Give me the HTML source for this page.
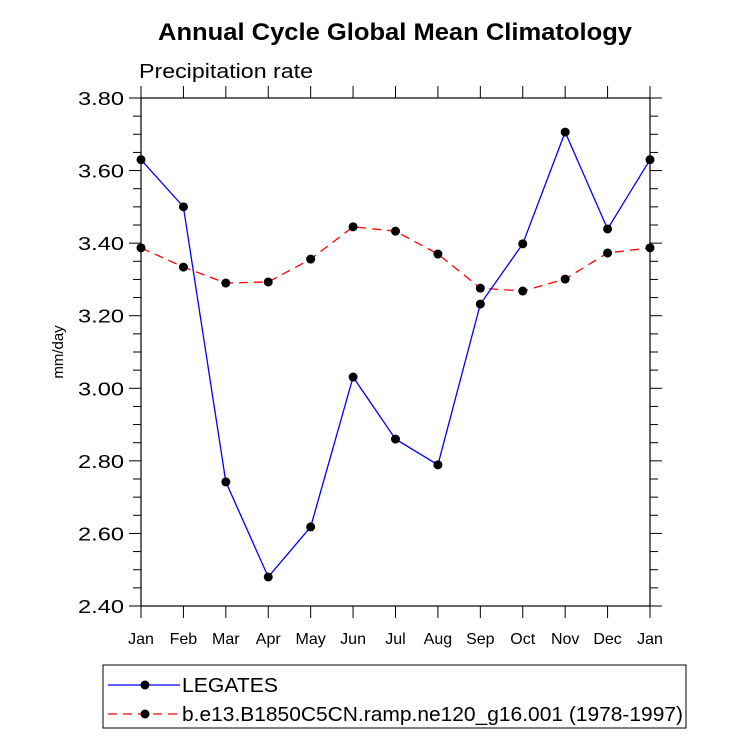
<!DOCTYPE html>
<html><head><meta charset="utf-8"><style>
body{margin:0;background:#fff;}
text{font-family:"Liberation Sans",sans-serif;}
</style></head><body>
<svg id="c" width="733" height="739">
<text x="158" y="40" textLength="474" lengthAdjust="spacingAndGlyphs" font-size="24" font-weight="bold">Annual Cycle Global Mean Climatology</text>
<text x="139" y="78" textLength="174" lengthAdjust="spacingAndGlyphs" font-size="20">Precipitation rate</text>
<text transform="translate(63,352) rotate(-90)" text-anchor="middle" font-size="15">mm/day</text>
<rect x="141" y="98" width="509" height="508" fill="none" stroke="#000" stroke-width="1.2"/>
<g id="ax"></g><g id="marks"></g>
<rect x="103" y="665" width="583" height="63" fill="none" stroke="#000" stroke-width="1"/>
<g>
<line x1="108" y1="685" x2="180" y2="685" stroke="#00f" stroke-width="1.3"/><circle cx="145" cy="685" r="4.5"/>
<text x="182" y="692" textLength="96" lengthAdjust="spacingAndGlyphs" font-size="20">LEGATES</text></g>
<g>
<line x1="108" y1="714" x2="180" y2="714" stroke="#f00" stroke-width="1.3" stroke-dasharray="9,6"/><circle cx="145" cy="714" r="4.5"/>
<text x="182" y="721" textLength="501" lengthAdjust="spacingAndGlyphs" font-size="20">b.e13.B1850C5CN.ramp.ne120_g16.001 (1978-1997)</text></g>
</svg>
<script>
const months=["Jan","Feb","Mar","Apr","May","Jun","Jul","Aug","Sep","Oct","Nov","Dec","Jan"];
const legates=[3.63,3.50,2.742,2.48,2.618,3.031,2.86,2.789,3.232,3.398,3.706,3.439,3.63];
const model=[3.387,3.334,3.29,3.293,3.356,3.445,3.433,3.37,3.276,3.268,3.301,3.373,3.387];
const yTicks=["2.40","2.60","2.80","3.00","3.20","3.40","3.60","3.80"];
const NS="http://www.w3.org/2000/svg";
const X=i=>141+i*(509/12), Y=v=>606-(v-2.4)/1.4*508;
const ax=document.getElementById('ax'),mk=document.getElementById('marks');
function el(t,a,p){const e=document.createElementNS(NS,t);for(const k in a)e.setAttribute(k,a[k]);p.appendChild(e);return e;}
months.forEach((m,i)=>{const x=X(i);
el('line',{x1:x,y1:606,x2:x,y2:618,stroke:'#000'},ax);
el('line',{x1:x,y1:98,x2:x,y2:86,stroke:'#000'},ax);
const t=el('text',{x:x,y:644,'text-anchor':'middle','font-size':16},ax);t.textContent=m;

});
for(let v=2.4;v<=3.801;v+=0.05){const y=Y(v);const maj=Math.abs((v-2.4)/0.2-Math.round((v-2.4)/0.2))<0.01;const L=maj?12:8;
el('line',{x1:141-L,y1:y,x2:141,y2:y,stroke:'#000'},ax);el('line',{x1:650,y1:y,x2:650+L,y2:y,stroke:'#000'},ax);}
yTicks.forEach(s=>{const t=el('text',{x:124,y:Y(+s)+7,'text-anchor':'end','font-size':18,textLength:46,lengthAdjust:'spacingAndGlyphs'},ax);t.textContent=s;

});
function series(d,col,dash,name){
const p=el('polyline',{points:d.map((v,i)=>X(i)+','+Y(v)).join(' '),fill:'none',stroke:col,'stroke-width':1.3,'stroke-dasharray':dash},mk);


d.forEach((v,i)=>{const c=el('circle',{cx:X(i),cy:Y(v),r:4.5},mk);

});}
series(model,'#f00','9,6','model');
series(legates,'#00f','none','legates');
</script>
</body></html>
